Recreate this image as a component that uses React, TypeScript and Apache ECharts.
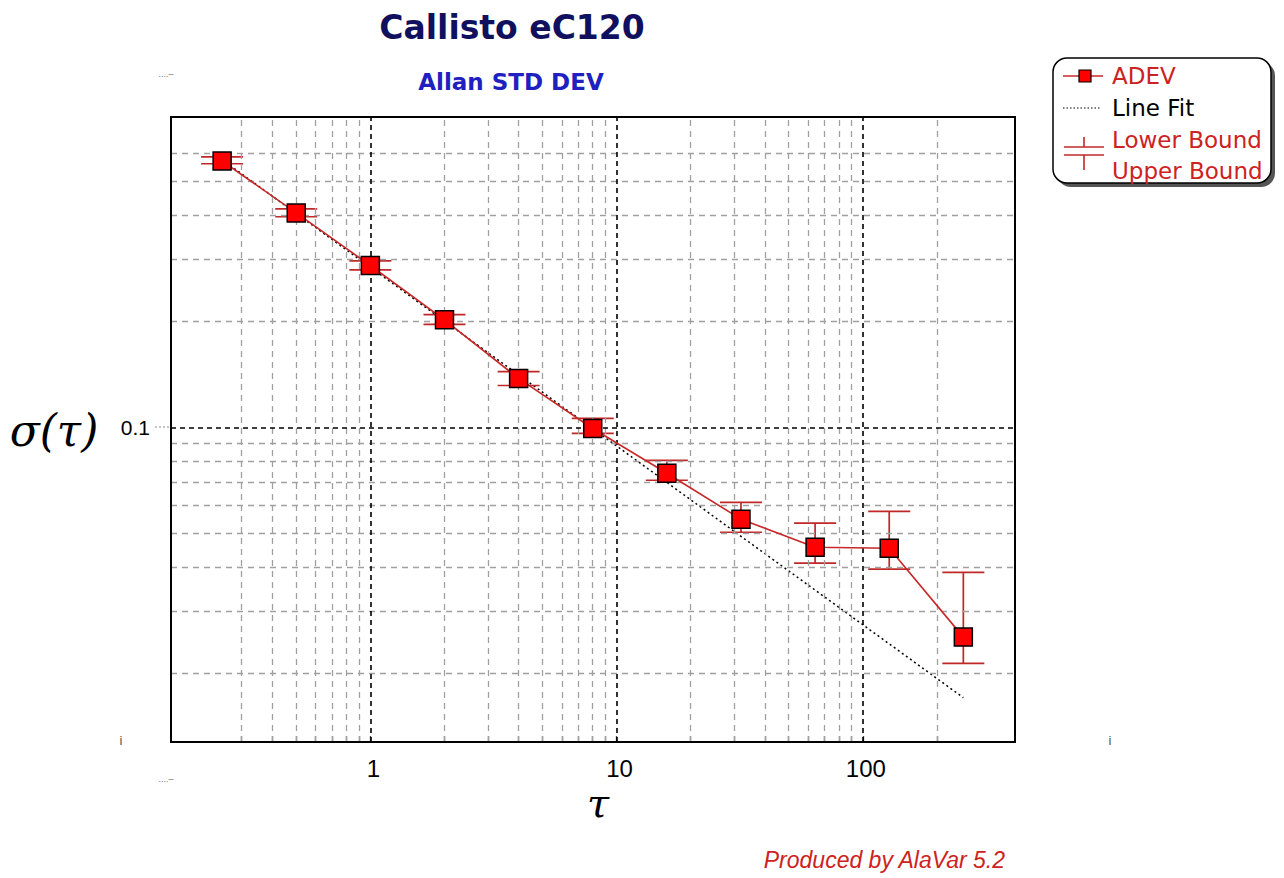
import React, { useEffect, useRef } from 'react';
import * as echarts from 'echarts';

// ---- data ----
const tau = [0.25, 0.5, 1, 2, 4, 8, 16, 32, 64, 128, 256];
const adev = [0.57, 0.406, 0.288, 0.202, 0.1377, 0.0993, 0.0741, 0.0549, 0.0457, 0.0454, 0.0254];
const lowerBound = [0.56, 0.396, 0.28, 0.196, 0.1315, 0.0962, 0.0708, 0.0504, 0.0412, 0.0396, 0.0214];
const upperBound = [0.586, 0.417, 0.297, 0.209, 0.144, 0.106, 0.0806, 0.0613, 0.0535, 0.0578, 0.0388];
const lineFitTau = [0.25, 256];
const lineFitValue = [0.575, 0.0171];
const xMajorTicks = [1, 10, 100];
const xMinorGrid = [0.3, 0.4, 0.5, 0.6, 0.7, 0.8, 0.9, 2, 3, 4, 5, 6, 7, 8, 9, 20, 30, 40, 50, 60, 70, 80, 90, 200];
const yMajorTicks = [0.1];
const yMinorGrid = [0.02, 0.03, 0.04, 0.05, 0.06, 0.07, 0.08, 0.09, 0.2, 0.3, 0.4, 0.5, 0.6];
const legendItems = ['ADEV', 'Line Fit', 'Lower Bound', 'Upper Bound'];

const RED_LINE = '#c82828';
const BAR_RED = '#c02828';

const isMajor = (v: number, list: number[]) => list.some((m) => Math.abs(Math.log10(v) - Math.log10(m)) < 1e-6);

export default function App() {
  const ref = useRef<HTMLDivElement>(null);
  useEffect(() => {
    if (!ref.current) return;
    const chart = echarts.init(ref.current, null, { renderer: 'svg' });
    const minorStyle = { color: '#a0a0a0', width: 1.3, type: [6, 5] as any };
    const majorStyle = { color: '#000', width: 1.6, type: [5, 4] as any };
    const gridLines = [
      ...xMinorGrid.map((v) => ({ xAxis: v, lineStyle: minorStyle })),
      ...yMinorGrid.map((v) => ({ yAxis: v, lineStyle: minorStyle })),
      ...xMajorTicks.map((v) => ({ xAxis: v, lineStyle: majorStyle })),
      ...yMajorTicks.map((v) => ({ yAxis: v, lineStyle: majorStyle })),
    ];
    const legendX = 1053;
    const legendY = 58;
    const rowY = [76, 108, 140, 171];
    const option: any = {
      animation: false,
      backgroundColor: '#fff',
      grid: { left: 171, top: 117, width: 844, height: 625, show: true, borderColor: '#000', borderWidth: 2, backgroundColor: 'transparent', z: 10 },
      xAxis: {
        type: 'log',
        logBase: 10,
        min: 0.155,
        max: 415,
        axisLine: { show: false },
        axisTick: {
          show: true,
          inside: true,
          length: 6,
          customValues: [...xMinorGrid, ...xMajorTicks],
          lineStyle: { color: '#444', width: 1.3 },
        },
        splitLine: { show: false },
        axisLabel: {
          fontFamily: 'Liberation Sans',
          fontSize: 24,
          color: '#000',
          margin: 14,
          padding: [0, 0, 0, 6],
          formatter: (v: number) => (isMajor(v, xMajorTicks) ? String(Math.round(v)) : ''),
        },
      },
      yAxis: {
        type: 'log',
        logBase: 10,
        min: 0.0128,
        max: 0.76,
        axisLine: { show: false },
        axisTick: { show: false },
        splitLine: { show: false },
        axisLabel: {
          fontFamily: 'Liberation Sans',
          fontSize: 21,
          color: '#000',
          margin: 21,
          formatter: (v: number) => (isMajor(v, yMajorTicks) ? String(+v.toPrecision(3)) : ''),
        },
      },
      series: [
        {
          name: 'grid',
          type: 'line',
          data: [],
          silent: true,
          z: 1,
          markLine: {
            silent: true,
            symbol: ['none', 'none'],
            label: { show: false },
            animation: false,
            data: gridLines,
          },
        },
        {
          name: 'Line Fit',
          type: 'line',
          data: lineFitTau.map((t, i) => [t, lineFitValue[i]]),
          symbol: 'none',
          lineStyle: { color: '#000', width: 1.5, type: [2, 3] },
          z: 3,
        },
        {
          name: 'Bounds',
          type: 'custom',
          data: tau.map((t, i) => [t, lowerBound[i], upperBound[i]]),
          encode: { x: 0, y: [1, 2] },
          z: 4,
          renderItem: (params: any, api: any) => {
            const x = api.value(0);
            const lo = api.coord([x, api.value(1)]);
            const hi = api.coord([x, api.value(2)]);
            const hw = 21;
            const st = { stroke: BAR_RED, lineWidth: 1.7 };
            return {
              type: 'group',
              children: [
                { type: 'line', shape: { x1: lo[0], y1: lo[1], x2: hi[0], y2: hi[1] }, style: st },
                { type: 'line', shape: { x1: lo[0] - hw, y1: lo[1], x2: lo[0] + hw, y2: lo[1] }, style: st },
                { type: 'line', shape: { x1: hi[0] - hw, y1: hi[1], x2: hi[0] + hw, y2: hi[1] }, style: st },
              ],
            };
          },
        },
        {
          name: 'ADEV',
          type: 'line',
          data: tau.map((t, i) => [t, adev[i]]),
          symbol: 'rect',
          symbolSize: 18,
          lineStyle: { color: RED_LINE, width: 1.6 },
          itemStyle: { color: '#ff0000', borderColor: '#000', borderWidth: 1.5 },
          z: 5,
        },
      ],
      graphic: [
        { type: 'text', x: 512, y: 27, style: { text: 'Callisto eC120', font: 'bold 33px "DejaVu Sans"', fill: '#10105e', align: 'center', verticalAlign: 'middle' } },
        { type: 'text', x: 511, y: 82, style: { text: 'Allan STD DEV', font: 'bold 23px "DejaVu Sans"', fill: '#2020c0', align: 'center', verticalAlign: 'middle' } },
        { type: 'text', x: 54, y: 430, style: { text: 'σ(τ)', font: 'italic 44px "DejaVu Serif"', fill: '#000', align: 'center', verticalAlign: 'middle' } },
        { type: 'text', x: 598, y: 803, style: { text: 'τ', font: 'italic 40px "DejaVu Serif"', fill: '#000', align: 'center', verticalAlign: 'middle' } },
        { type: 'text', x: 1005, y: 860, style: { text: 'Produced by AlaVar 5.2', font: 'italic 23px "Liberation Sans"', fill: '#cc2222', align: 'right', verticalAlign: 'middle' } },
        { type: 'text', x: 166, y: 74, style: { text: '....–', font: '9px "Liberation Sans"', fill: '#777', align: 'center', verticalAlign: 'middle' } },
        { type: 'text', x: 166, y: 779, style: { text: '....–', font: '9px "Liberation Sans"', fill: '#777', align: 'center', verticalAlign: 'middle' } },
        { type: 'text', x: 121, y: 740, style: { text: 'i', font: '13px "Liberation Sans"', fill: '#555', align: 'center', verticalAlign: 'middle' } },
        { type: 'text', x: 1110, y: 740, style: { text: 'i', font: '13px "Liberation Sans"', fill: '#555', align: 'center', verticalAlign: 'middle' } },
        { type: 'line', shape: { x1: 155, y1: 427, x2: 171, y2: 427 }, style: { stroke: '#888', lineWidth: 1.2, lineDash: [2, 2] } },
        // legend box
        { type: 'rect', shape: { x: legendX + 4, y: legendY + 4, width: 218, height: 125, r: 14 }, style: { fill: '#555' }, z: 20 },
        { type: 'rect', shape: { x: legendX, y: legendY, width: 218, height: 125, r: 14 }, style: { fill: '#fff', stroke: '#000', lineWidth: 1.5 }, z: 21 },
        { type: 'line', shape: { x1: 1063, y1: rowY[0], x2: 1103, y2: rowY[0] }, style: { stroke: RED_LINE, lineWidth: 1.6 }, z: 22 },
        { type: 'rect', shape: { x: 1079, y: rowY[0] - 6, width: 12, height: 12 }, style: { fill: '#ff0000', stroke: '#000', lineWidth: 1.2 }, z: 23 },
        { type: 'line', shape: { x1: 1063, y1: rowY[1], x2: 1101, y2: rowY[1] }, style: { stroke: '#000', lineWidth: 1.2, lineDash: [1.5, 2] }, z: 22 },
        { type: 'line', shape: { x1: 1084, y1: 137, x2: 1084, y2: 147 }, style: { stroke: BAR_RED, lineWidth: 1.6 }, z: 22 },
        { type: 'line', shape: { x1: 1064, y1: 147, x2: 1104, y2: 147 }, style: { stroke: BAR_RED, lineWidth: 1.6 }, z: 22 },
        { type: 'line', shape: { x1: 1064, y1: 155, x2: 1104, y2: 155 }, style: { stroke: BAR_RED, lineWidth: 1.6 }, z: 22 },
        { type: 'line', shape: { x1: 1084, y1: 155, x2: 1084, y2: 170 }, style: { stroke: BAR_RED, lineWidth: 1.6 }, z: 22 },
        ...legendItems.map((name, i) => ({
          type: 'text',
          x: 1112,
          y: rowY[i],
          z: 23,
          style: { text: name, font: '23px "DejaVu Sans"', fill: name === 'Line Fit' ? '#000' : '#cc2222', verticalAlign: 'middle' },
        })),
      ],
    };
    chart.setOption(option);
    return () => chart.dispose();
  }, []);
  return <div ref={ref} style={{ position: 'absolute', left: 0, top: 0, width: 1284, height: 878 }} />;
}
